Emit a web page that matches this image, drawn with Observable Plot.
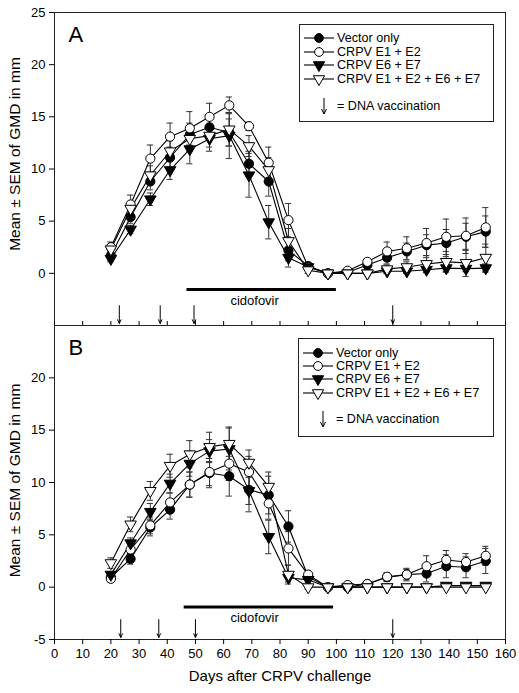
<!DOCTYPE html>
<html><head><meta charset="utf-8">
<script src="https://cdn.jsdelivr.net/npm/d3@7"></script>
<script src="https://cdn.jsdelivr.net/npm/@observablehq/plot@0.6"></script>
<style>
body{margin:0;background:#fff;font-family:"Liberation Sans",Arial,sans-serif}
#wrap{position:relative;width:519px;height:693px;overflow:hidden}
#wrap > svg{position:absolute;left:0;background:transparent}
</style></head><body><div id="wrap"></div>
<script>
// ---- data ----
const days = [20,27,34,41,48,55,62,69,76,83,90,97,104,111,118,125,132,139,146,153];
const groups = ["Vector only","CRPV E1 + E2","CRPV E6 + E7","CRPV E1 + E2 + E6 + E7"];

// Panel A means and SEM
const aVector = [1.7,5.4,8.8,11.1,13.3,14.0,13.5,10.5,8.8,2.2,0.7,0.0,0.1,0.8,1.5,2.1,2.7,2.9,3.5,4.0];
const aE1E2   = [2.5,6.6,11.0,13.1,13.9,15.0,16.1,14.1,10.6,5.1,0.6,0.0,0.25,1.1,2.1,2.4,2.9,3.5,3.6,4.4];
const aE6E7   = [1.4,4.2,7.1,9.9,11.9,12.9,13.2,9.4,4.9,1.5,0.6,0.0,0.0,0.0,0.2,0.2,0.35,0.5,0.45,0.5];
const aAll    = [2.3,6.2,9.4,11.7,12.9,13.2,13.8,12.2,9.9,3.1,0.3,0.0,0.0,0.0,0.4,0.6,0.9,1.1,1.0,1.5];
const aVectorSem = [0.4,0.6,0.8,1.0,1.1,0.9,1.3,1.2,1.4,1.0,0.3,0.1,0.1,0.4,0.6,0.8,1.0,1.3,1.3,1.5];
const aE1E2Sem   = [0.5,0.9,1.3,1.3,1.6,1.3,0.8,0.4,1.5,1.6,0.3,0.1,0.2,0.3,0.9,1.1,1.4,1.7,1.7,1.9];
const aE6E7Sem   = [0.3,0.4,0.6,0.9,1.4,1.2,2.2,2.1,1.6,0.9,0.3,0.1,0.1,0.1,0.2,0.2,0.3,0.3,0.3,0.4];
const aAllSem    = [0.4,0.7,0.9,1.0,1.2,1.1,1.6,1.0,1.2,1.2,0.3,0.1,0.1,0.1,0.4,0.5,0.8,1.0,1.3,1.3];

// Panel B means and SEM
const bVector = [0.95,2.7,5.7,7.4,9.8,10.9,10.6,9.3,8.8,5.8,1.0,0.0,0.0,0.3,0.95,1.2,1.3,2.0,1.9,2.5];
const bE1E2   = [0.8,3.6,5.9,8.1,9.8,11.0,11.8,11.0,8.0,3.7,1.2,0.0,0.2,0.3,1.0,1.2,2.0,2.6,2.4,3.0];
const bE6E7   = [1.2,4.2,7.2,9.9,11.8,13.0,13.2,9.2,4.8,0.9,0.7,0.0,0.0,0.0,0.0,0.0,0.0,0.15,0.15,0.15];
const bAll    = [2.3,6.0,9.2,11.6,12.7,13.4,13.7,11.9,9.6,1.2,0.0,0.0,0.0,0.0,0.0,0.0,0.0,0.0,0.0,0.0];
const bVectorSem = [0.3,0.5,0.8,0.9,1.2,1.4,1.9,2.1,1.8,1.5,0.4,0.1,0.1,0.2,0.4,0.5,0.8,1.1,1.0,1.2];
const bE1E2Sem   = [0.3,0.5,0.8,0.9,1.2,1.3,1.6,1.5,1.5,1.6,0.4,0.1,0.1,0.2,0.4,0.6,1.0,0.9,0.8,0.9];
const bE6E7Sem   = [0.3,0.5,0.8,0.9,1.2,1.1,2.0,1.3,1.6,0.4,0.3,0.0,0.0,0.0,0.0,0.0,0.0,0.1,0.1,0.1];
const bAllSem    = [0.5,0.7,0.9,1.1,1.3,1.4,1.6,1.2,1.4,0.9,0.2,0.0,0.0,0.0,0.0,0.0,0.0,0.0,0.0,0.0];

// annotations
const aVaccDays = [23,37.5,49.5,120];
const bVaccDays = [23.5,37,50,120];
const aCidofovir = {start:47, end:100, level:-1.55, labelDay:71};
const bCidofovir = {start:46, end:99, level:-1.9, labelDay:71};
const arrowTop = -3.1, arrowBottom = -4.8;
const xTicks = d3.range(0,161,10);
const aYTicks = [0,5,10,15,20,25];
const bYTicks = [-5,0,5,10,15,20];
const yLabel = "Mean \u00B1 SEM of GMD in mm";
const xLabel = "Days after CRPV challenge";
const vaccLegend = "= DNA vaccination";

const symbolOf = ["circle","circle","triangle","triangle"];
const fillOf = ["black","white","black","white"];
const rotateOf = [0,0,180,180];
const font = "Liberation Sans, Arial, Helvetica, sans-serif";

function rows(means, sems){
  const out=[];
  groups.forEach((g,i)=>days.forEach((d,j)=>out.push({group:g, gi:i, day:d, v:means[i][j], e:sems[i][j]})));
  return out;
}

function panel(cfg){
  const data = rows(cfg.means, cfg.sems);
  const marks = [
    Plot.frame({stroke:"#222", strokeWidth:1}),
    Plot.axisY(cfg.yTicks, {tickSize:5, tickPadding:4, fontSize:13, label:null, tickFormat:d=>String(d)}),
    cfg.bottom
      ? Plot.axisX(xTicks, {tickSize:5, tickPadding:4, fontSize:13, label:null, tickFormat:d=>String(d)})
      : Plot.axisX(xTicks, {tickSize:-4, tickFormat:()=>"", label:null}),
    Plot.text([cfg.letter], {frameAnchor:"top-left", dx:14, dy:14, fontSize:22}),
    Plot.text([yLabel], {frameAnchor:"left", textAnchor:"middle", rotate:-90, dx:-39, dy:cfg.yLabelDy, fontSize:15.5}),
    // cidofovir bar
    Plot.ruleY([cfg.cido], {y:"level", x1:"start", x2:"end", strokeWidth:3, stroke:"black"}),
    Plot.text([cfg.cido], {x:"labelDay", y:"level", dy:11, text:()=>"cidofovir", fontSize:13}),
    // vaccination arrows
    Plot.arrow(cfg.vacc, {x:d=>d, y1:()=>arrowTop, y2:()=>arrowBottom, headLength:6, headAngle:50, strokeWidth:1, stroke:"black"}),
    // error bars
    Plot.ruleX(data, {x:"day", y1:d=>d.v-d.e, y2:d=>d.v+d.e, stroke:"#333", strokeWidth:1}),
    Plot.ruleY(data, {y:d=>d.v+d.e, x1:d=>d.day-1.1, x2:d=>d.day+1.1, stroke:"#333", strokeWidth:1}),
    Plot.ruleY(data, {y:d=>d.v-d.e, x1:d=>d.day-1.1, x2:d=>d.day+1.1, stroke:"#333", strokeWidth:1}),
    Plot.line(data, {x:"day", y:"v", z:"group", stroke:"black", strokeWidth:1.1})
  ];
  groups.forEach((g,i)=>{
    marks.push(Plot.dot(data.filter(d=>d.gi===i), {x:"day", y:"v", symbol:symbolOf[i], fill:fillOf[i], stroke:"black", strokeWidth:1, r: i<2?4.6:4.3, rotate:rotateOf[i]}));
  });
  if (cfg.bottom) marks.push(Plot.text([xLabel], {frameAnchor:"bottom", dy:41, fontSize:15}));
  const svg = Plot.plot({
    width:519, height:cfg.height,
    marginLeft:54, marginRight:14, marginTop:cfg.mt, marginBottom:cfg.mb,
    x:{domain:[0,160]}, y:{domain:[-5,25]},
    style:{fontFamily:font, fontSize:"13px", color:"black", background:"transparent", overflow:"visible"},
    marks
  });
  svg.style.top = cfg.top+"px";
  return svg;
}

function legend(left, top, w, h, rowYs){
  const svg = d3.create("svg").attr("width",w+1).attr("height",h+1)
    .style("position","absolute").style("left",left+"px").style("top",top+"px").style("overflow","visible");
  svg.append("rect").attr("x",0.5).attr("y",0.5).attr("width",w).attr("height",h).attr("fill","white").attr("stroke","#222");
  groups.forEach((g,i)=>{
    const y = rowYs[i];
    svg.append("line").attr("x1",5).attr("x2",35).attr("y1",y).attr("y2",y).attr("stroke","black").attr("stroke-width",1.1);
    if (symbolOf[i]==="circle") {
      svg.append("circle").attr("cx",20).attr("cy",y).attr("r",4.4).attr("fill",fillOf[i]).attr("stroke","black");
    } else {
      const s = d3.symbol(d3.symbolTriangle, Math.PI*4.2*4.2);
      svg.append("path").attr("d",s()).attr("transform",`translate(20,${y}) rotate(180)`).attr("fill",fillOf[i]).attr("stroke","black");
    }
    svg.append("text").attr("x",38).attr("y",y).attr("dy","0.35em").attr("font-family",font).attr("font-size",12.6).text(g);
  });
  const ay = rowYs[4];
  svg.append("line").attr("x1",25).attr("x2",25).attr("y1",ay-8).attr("y2",ay+8).attr("stroke","black");
  svg.append("path").attr("d",`M22.5,${ay+3}L25,${ay+8}L27.5,${ay+3}`).attr("fill","none").attr("stroke","black");
  svg.append("text").attr("x",38).attr("y",ay).attr("dy","0.35em").attr("font-family",font).attr("font-size",12.6).text(vaccLegend);
  return svg.node();
}

const wrap = document.getElementById("wrap");
wrap.appendChild(panel({letter:"A", top:0, height:326, mt:12, mb:1, bottom:false, yTicks:aYTicks, yLabelDy:-15,
  means:[aVector,aE1E2,aE6E7,aAll], sems:[aVectorSem,aE1E2Sem,aE6E7Sem,aAllSem], cido:aCidofovir, vacc:aVaccDays}));
wrap.appendChild(panel({letter:"B", top:324, height:369, mt:1, mb:54, bottom:true, yTicks:bYTicks, yLabelDy:-2,
  means:[bVector,bE1E2,bE6E7,bAll], sems:[bVectorSem,bE1E2Sem,bE6E7Sem,bAllSem], cido:bCidofovir, vacc:bVaccDays}));
wrap.appendChild(legend(299, 24, 194, 97, [38-24, 52-24, 65-24, 79-24, 106-24]));
wrap.appendChild(legend(298, 338, 195, 98, [15, 28, 41, 55, 81]));
</script></body></html>
